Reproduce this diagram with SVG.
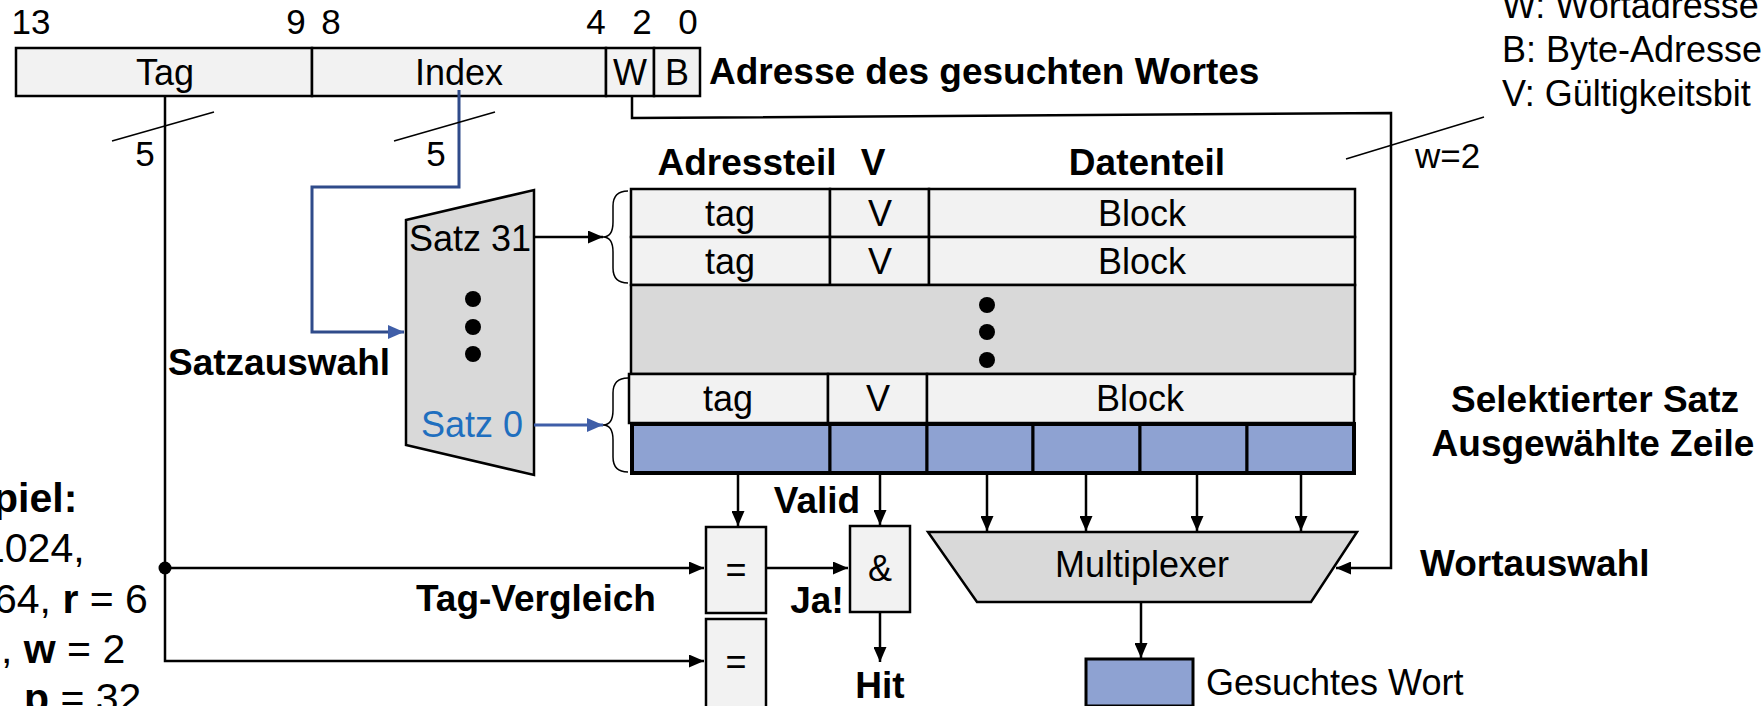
<svg xmlns="http://www.w3.org/2000/svg" width="1764" height="706" viewBox="0 0 1764 706">
<defs>
<style>
text{font-family:"Liberation Sans",Arial,sans-serif;font-size:36px;fill:#000}
.b{font-weight:bold;font-size:37px}
.m{text-anchor:middle}
.n{font-size:35px}
.ex text,.ex tspan{font-size:41px}
.cell{fill:#f2f2f2;stroke:#000;stroke-width:2.5}
.grey{fill:#d9d9d9;stroke:#000;stroke-width:2.5}
.blue{fill:#8ea2d2;stroke:#000;stroke-width:3}
.w{fill:none;stroke:#000;stroke-width:2.5}
.wb{fill:none;stroke:#2f4b8a;stroke-width:3}
.thin{fill:none;stroke:#000;stroke-width:1.5}
</style>
<marker id="ah" viewBox="0 0 15 13" refX="15" refY="6.5" markerWidth="15" markerHeight="13" markerUnits="userSpaceOnUse" orient="auto"><path d="M0,0 L15,6.5 L0,13 z" fill="#000"/></marker>
<marker id="ahb" viewBox="0 0 15 13" refX="15" refY="6.5" markerWidth="16" markerHeight="14" markerUnits="userSpaceOnUse" orient="auto"><path d="M0,0 L15,6.5 L0,13 z" fill="#3f5ea8"/></marker>
</defs>
<rect width="1764" height="706" fill="#fff"/>

<g id="address">
<text class="n m" x="31" y="34">13</text>
<text class="n m" x="296" y="34">9</text>
<text class="n m" x="331" y="34">8</text>
<text class="n m" x="596" y="34">4</text>
<text class="n m" x="642" y="34">2</text>
<text class="n m" x="688" y="34">0</text>
<rect class="cell" x="16" y="48" width="296" height="48"/>
<rect class="cell" x="312" y="48" width="294" height="48"/>
<rect class="cell" x="606" y="48" width="48" height="48"/>
<rect class="cell" x="654" y="48" width="46" height="48"/>
<text class="m" x="165" y="85">Tag</text>
<text class="m" x="459" y="85">Index</text>
<text class="m" x="630" y="85">W</text>
<text class="m" x="677" y="85">B</text>
<text class="b" x="709" y="84">Adresse des gesuchten Wortes</text>
</g>

<g id="legend">
<text x="1502" y="18">W: Wortadresse</text>
<text x="1502" y="62">B: Byte-Adresse</text>
<text x="1502" y="106">V: Gültigkeitsbit</text>
</g>

<g id="set-mux">
<polygon class="grey" points="406,220 534,190 534,475 406,445"/>
<text x="409" y="251">Satz 31</text>
<text x="421" y="437" style="fill:#1f6fbf">Satz 0</text>
<circle cx="473" cy="299" r="8"/>
<circle cx="473" cy="327" r="8"/>
<circle cx="473" cy="354" r="8"/>
</g>

<g id="cache">
<text class="b m" x="747" y="175">Adressteil</text>
<text class="b m" x="873" y="175">V</text>
<text class="b m" x="1147" y="175">Datenteil</text>
<rect class="cell" x="631" y="189" width="199" height="48"/>
<rect class="cell" x="830" y="189" width="99" height="48"/>
<rect class="cell" x="929" y="189" width="426" height="48"/>
<rect class="cell" x="631" y="237" width="199" height="48"/>
<rect class="cell" x="830" y="237" width="99" height="48"/>
<rect class="cell" x="929" y="237" width="426" height="48"/>
<rect class="grey" x="631" y="285" width="724" height="89"/>
<circle cx="987" cy="305" r="8"/>
<circle cx="987" cy="332" r="8"/>
<circle cx="987" cy="360" r="8"/>
<rect class="cell" x="629" y="374" width="199" height="49"/>
<rect class="cell" x="828" y="374" width="99" height="49"/>
<rect class="cell" x="927" y="374" width="427" height="49"/>
<text class="m" x="730" y="226">tag</text>
<text class="m" x="880" y="226">V</text>
<text class="m" x="1142" y="226">Block</text>
<text class="m" x="730" y="274">tag</text>
<text class="m" x="880" y="274">V</text>
<text class="m" x="1142" y="274">Block</text>
<text class="m" x="728" y="411">tag</text>
<text class="m" x="878" y="411">V</text>
<text class="m" x="1140" y="411">Block</text>
<rect class="blue" x="632" y="424" width="198" height="49"/>
<rect class="blue" x="830" y="424" width="97" height="49"/>
<rect class="blue" x="927" y="424" width="106" height="49"/>
<rect class="blue" x="1033" y="424" width="107" height="49"/>
<rect class="blue" x="1140" y="424" width="107" height="49"/>
<rect class="blue" x="1247" y="424" width="107" height="49"/>
<rect x="632" y="424" width="722" height="49" fill="none" stroke="#000" stroke-width="4"/>
<path class="thin" d="M628,191 Q613,191 613,206 V222 Q613,237 603,237 Q613,237 613,252 V268 Q613,283 628,283"/>
<path class="thin" d="M628,378 Q613,378 613,393 V410 Q613,425 603,425 Q613,425 613,440 V457 Q613,472 628,472"/>
</g>

<g id="cmp1">
<rect class="cell" x="706" y="527" width="60" height="86"/>
<text class="m" x="736" y="582">=</text>
</g>
<g id="cmp2">
<rect class="cell" x="706" y="619" width="60" height="90"/>
<text class="m" x="736" y="674">=</text>
</g>
<g id="and">
<rect class="cell" x="850" y="526" width="60" height="86"/>
<text class="m" x="880" y="581">&amp;</text>
</g>
<g id="word-mux">
<polygon class="grey" points="928,532 1357,532 1311,602 977,602"/>
<text class="m" x="1142" y="577">Multiplexer</text>
</g>
<g id="result">
<rect class="blue" x="1086" y="659" width="107" height="47" stroke-width="2.5"/>
<text x="1206" y="695">Gesuchtes Wort</text>
</g>

<g id="labels">
<text class="b" x="168" y="375">Satzauswahl</text>
<text class="b" x="416" y="611">Tag-Vergleich</text>
<text class="b m" x="817" y="513">Valid</text>
<text class="b m" x="817" y="613">Ja!</text>
<text class="b m" x="880" y="698">Hit</text>
<text class="b m" x="1595" y="412">Selektierter Satz</text>
<text class="b m" x="1593" y="456">Ausgewählte Zeile</text>
<text class="b" x="1420" y="576">Wortauswahl</text>
<text class="n" x="1415" y="168">w=2</text>
<text class="n m" x="145" y="166">5</text>
<text class="n m" x="436" y="166">5</text>
</g>

<g id="example" class="ex">
<text class="b" x="-7" y="512">piel:</text>
<text x="-18" y="562">1024,</text>
<text x="-6" y="613">64, <tspan class="b">r</tspan> = 6</text>
<text x="1" y="663">, <tspan class="b">w</tspan> = 2</text>
<text x="24" y="712"><tspan class="b">p</tspan> = 32</text>
</g>

<g id="connectors">
<path class="w" d="M165,96 V661 H704" marker-end="url(#ah)"/>
<path class="w" d="M165,568 H704" marker-end="url(#ah)"/>
<circle cx="165" cy="568" r="6.5"/>
<line class="thin" x1="112" y1="141" x2="214" y2="112"/>
<path class="wb" d="M459,90 V187 H312 V332 H404" marker-end="url(#ahb)"/>
<line class="thin" x1="394" y1="141" x2="495" y2="112"/>
<path class="w" d="M632,96 V118 L1391,113 V568 H1336" marker-end="url(#ah)"/>
<line class="thin" x1="1346" y1="159" x2="1484" y2="117"/>
<path class="w" d="M534,237 H603" marker-end="url(#ah)"/>
<path d="M534,425 H603" fill="none" stroke="#3f5ea8" stroke-width="3" marker-end="url(#ahb)"/>
<path class="w" d="M738,473 V526" marker-end="url(#ah)"/>
<path class="w" d="M880,473 V525" marker-end="url(#ah)"/>
<path class="w" d="M987,473 V531" marker-end="url(#ah)"/>
<path class="w" d="M1086,473 V531" marker-end="url(#ah)"/>
<path class="w" d="M1197,473 V531" marker-end="url(#ah)"/>
<path class="w" d="M1301,473 V531" marker-end="url(#ah)"/>
<path class="w" d="M766,568 H848" marker-end="url(#ah)"/>
<path class="w" d="M880,612 V662" marker-end="url(#ah)"/>
<path class="w" d="M1141,602 V658" marker-end="url(#ah)"/>
</g>
</svg>
